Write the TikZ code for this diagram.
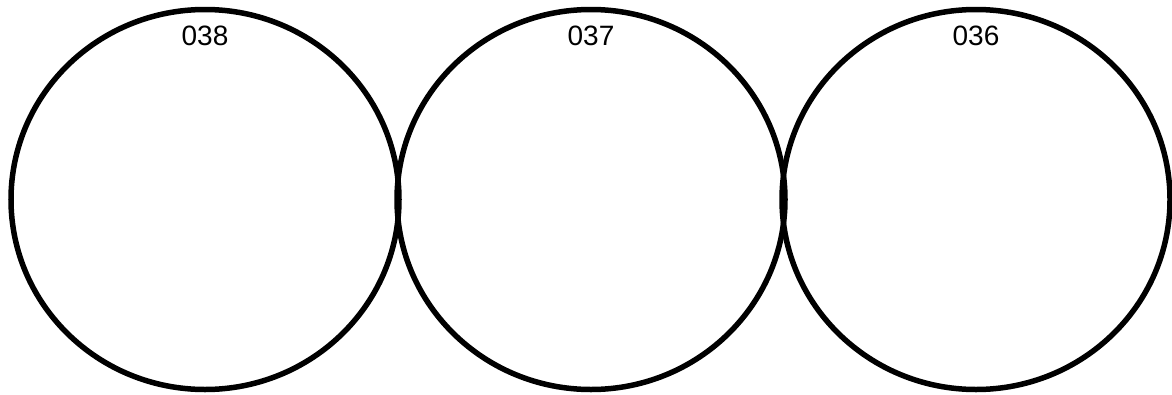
\documentclass[tikz,border=0pt]{standalone}
\usepackage{fontspec}
\setmainfont{Liberation Sans}
\usetikzlibrary{positioning,shapes.geometric}

\newcommand{\Wd}{388pt}   % ring width
\newcommand{\Ht}{380pt}   % ring height
\newcommand{\lw}{5.5pt}

\begin{document}
\begin{tikzpicture}[x=1pt,y=1pt,
  ring/.style={ellipse,draw,line width=\lw,inner sep=0pt,
    minimum width=\Wd,minimum height=\Ht},
  tag/.style={inner sep=0pt,font=\fontsize{28}{28}\selectfont}]
  \useasboundingbox (0,0) rectangle (1172,-394);
  \node[ring] (c38) at (205,-199.5) {};
  \node[ring] (c37) at (591,-199.5) {};
  \node[ring] (c36) at (976,-199.5) {};
  % labels near the top of each circle
  \node[tag,below=19pt of c38.north] (t38) {038};
  \node[tag,below=19pt of c37.north] (t37) {037};
  \node[tag,below=19pt of c36.north] (t36) {036};
\end{tikzpicture}
\end{document}
